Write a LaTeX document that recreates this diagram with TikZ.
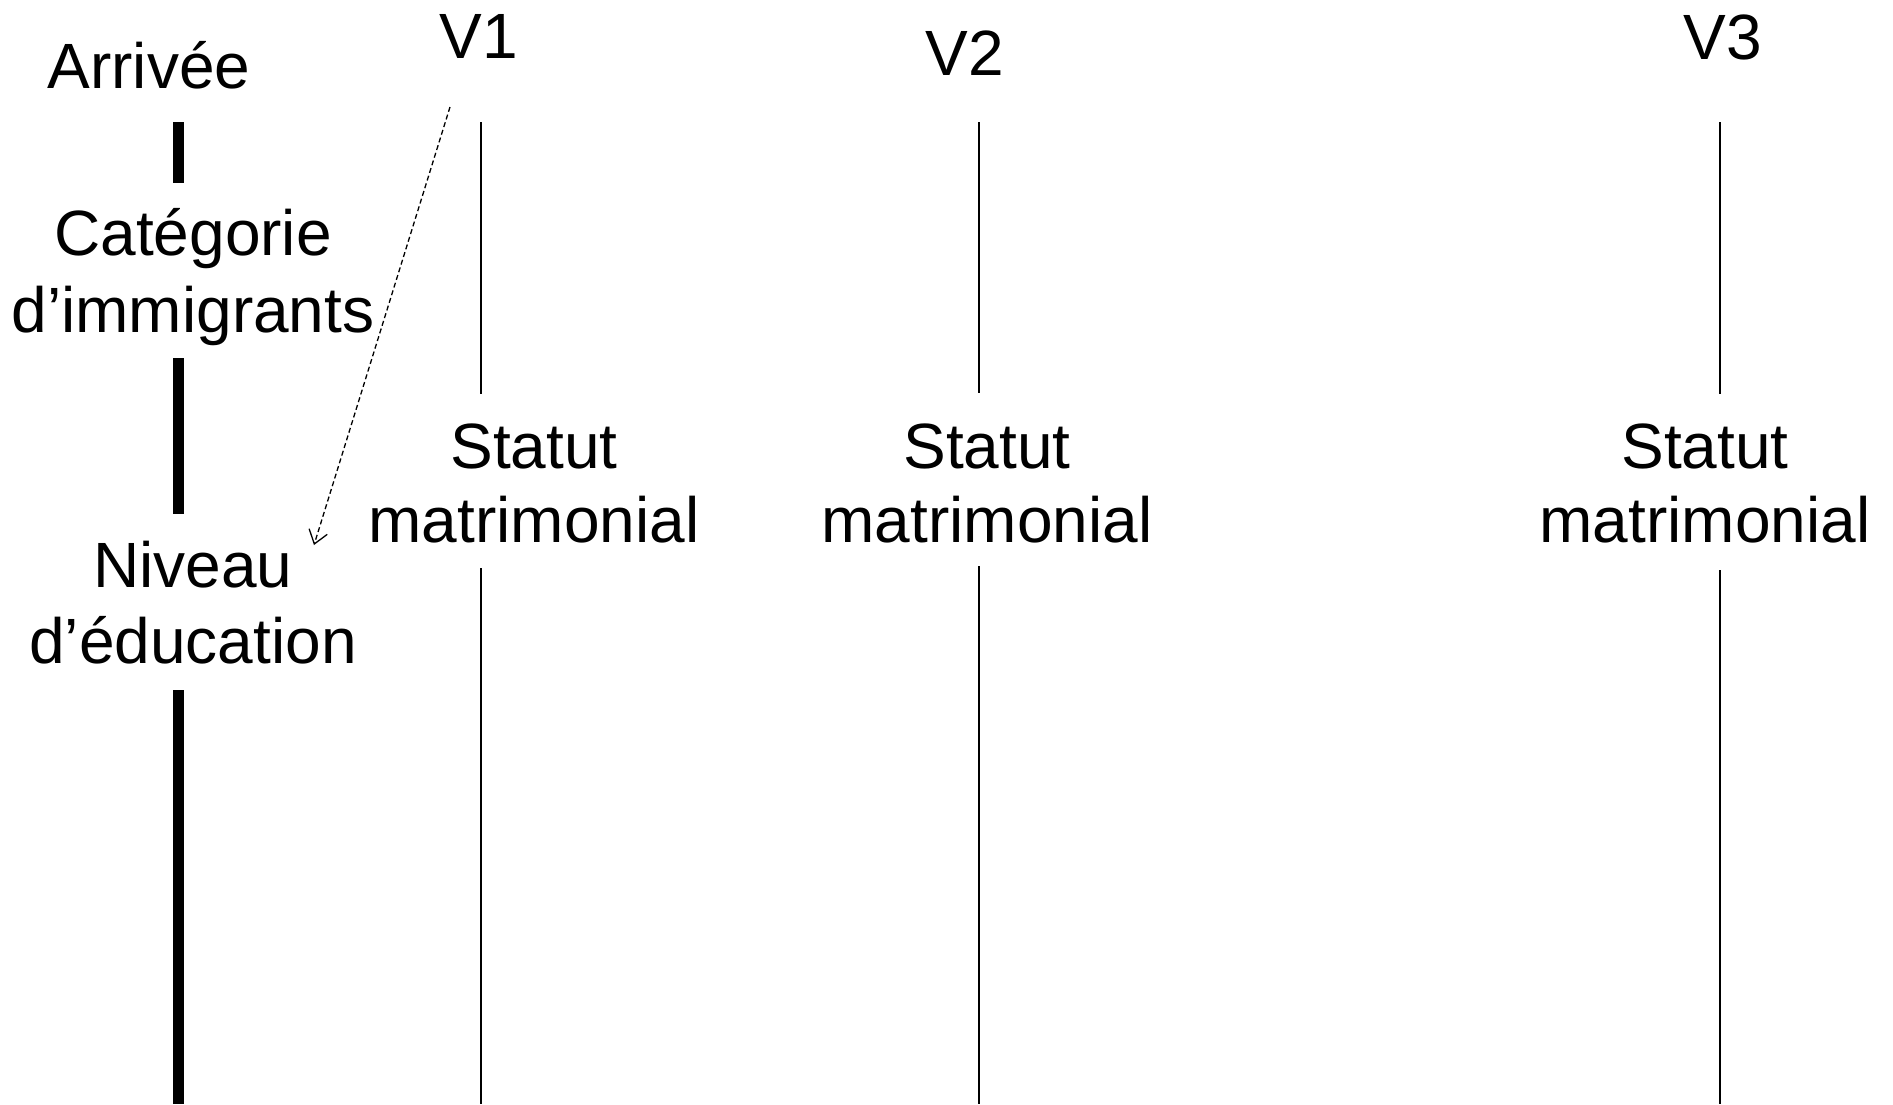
\documentclass[tikz,border=0pt]{standalone}
\usepackage{fontspec}
\setmainfont{Liberation Sans}
\usetikzlibrary{arrows.meta}
\begin{document}
\begin{tikzpicture}[x=1pt,y=-1pt,
  lbl/.style={font=\fontsize{64}{76}\selectfont, inner sep=0pt, anchor=base},
  timebar/.style={line width=11pt},
  wave/.style={line width=2.4pt},
  link/.style={line width=1.3pt, dash pattern=on 5pt off 3pt, -{Straight Barb[length=13pt,width=19pt,line width=1.3pt]}}]
\useasboundingbox (0,0) rectangle (1893,1104);
% left timeline labels
\node[lbl] (arr)  at (149,88)  {Arrivée};
\node[lbl] (cat1) at (193,255) {Catégorie};
\node[lbl] (cat2) at (193,332) {d’immigrants};
\node[lbl] (niv1) at (193,587) {Niveau};
\node[lbl] (niv2) at (193,663) {d’éducation};
% wave labels
\node[lbl] (v1) at (479,58) {V1};
\node[lbl] (v2) at (965,75) {V2};
\node[lbl] (v3) at (1723,59) {V3};
\node[lbl] (s1a) at (534,468) {Statut};
\node[lbl] (s1b) at (534,542) {matrimonial};
\node[lbl] (s2a) at (987,468) {Statut};
\node[lbl] (s2b) at (987,542) {matrimonial};
\node[lbl] (s3a) at (1705,468) {Statut};
\node[lbl] (s3b) at (1705,542) {matrimonial};
% coordinates of bar ends
\coordinate (b1t) at (178.5,122); \coordinate (b1b) at (178.5,183);
\coordinate (b2t) at (178.5,358); \coordinate (b2b) at (178.5,514);
\coordinate (b3t) at (178.5,690); \coordinate (b3b) at (178.5,1104);
\draw[timebar] (b1t) -- (b1b);
\draw[timebar] (b2t) -- (b2b);
\draw[timebar] (b3t) -- (b3b);
% wave lines
\coordinate (w1t) at (481,122); \coordinate (w1m) at (481,394);
\coordinate (w1n) at (481,568); \coordinate (w1b) at (481,1104);
\coordinate (w2t) at (979,122); \coordinate (w2m) at (979,393);
\coordinate (w2n) at (979,566); \coordinate (w2b) at (979,1104);
\coordinate (w3t) at (1720,122); \coordinate (w3m) at (1720,394);
\coordinate (w3n) at (1720,570); \coordinate (w3b) at (1720,1104);
\draw[wave] (w1t) -- (w1m);
\draw[wave] (w1n) -- (w1b);
\draw[wave] (w2t) -- (w2m);
\draw[wave] (w2n) -- (w2b);
\draw[wave] (w3t) -- (w3m);
\draw[wave] (w3n) -- (w3b);
% dashed arrow
\coordinate (as) at (450,107);
\coordinate (ae) at (314,545);
\draw[link] (as) -- (ae);
\end{tikzpicture}
\end{document}
